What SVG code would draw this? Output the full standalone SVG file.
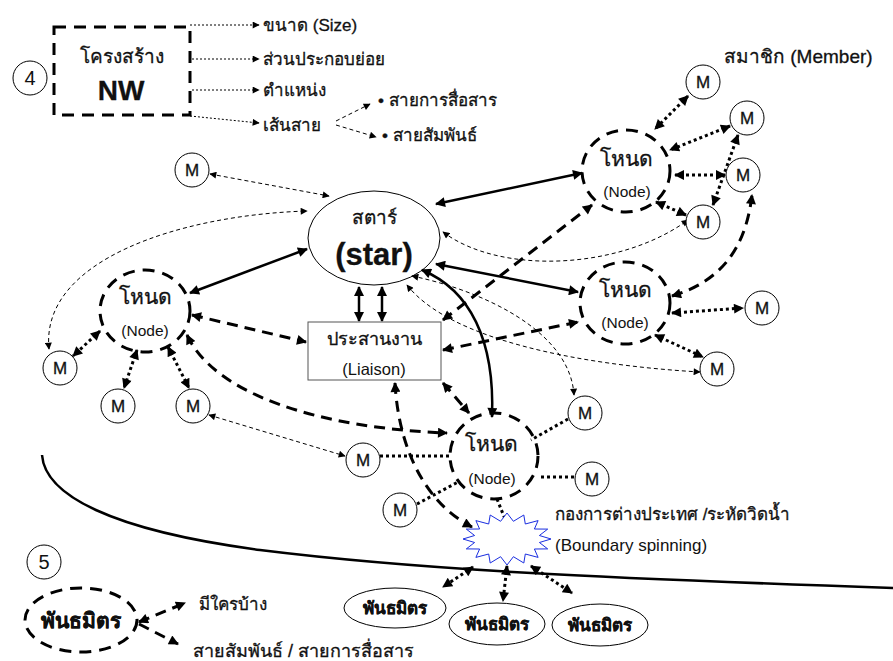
<svg xmlns="http://www.w3.org/2000/svg" width="893" height="661" viewBox="0 0 893 661">
  <defs>
    <marker id="sm" viewBox="0 0 10 10" refX="9" refY="5" markerWidth="8" markerHeight="7" markerUnits="userSpaceOnUse" orient="auto-start-reverse">
      <path d="M0,0 L10,5 L0,10 z" fill="#000"/>
    </marker>
    <marker id="lg" viewBox="0 0 10 10" refX="9" refY="5" markerWidth="12" markerHeight="10" markerUnits="userSpaceOnUse" orient="auto-start-reverse">
      <path d="M0,0 L10,5 L0,10 z" fill="#000"/>
    </marker>
    <style>
      text { font-family: "Liberation Sans", "Noto Sans", "DejaVu Sans", sans-serif; fill: #111; stroke: #111; stroke-width: 0.3; }
      .mid { text-anchor: middle; }
      .m { font-size: 17px; text-anchor: middle; }
      .mem { fill: #fff; stroke: #000; stroke-width: 1; }
      .hub { fill: none; stroke: #000; stroke-width: 3; stroke-dasharray: 12 8; }
      .th { font-size: 21px; text-anchor: middle; }
      .en { font-size: 15.5px; text-anchor: middle; }
      .lbl { font-size: 17px; }
      .pt { font-size: 17px; font-weight: bold; text-anchor: middle; }
      .thin-dot { fill: none; stroke: #000; stroke-width: 1; stroke-dasharray: 2 2; marker-end: url(#sm); }
      .thin-dash { fill: none; stroke: #000; stroke-width: 1; stroke-dasharray: 4 3; marker-start: url(#sm); marker-end: url(#sm); }
      .thick-dash { fill: none; stroke: #000; stroke-width: 3; stroke-dasharray: 11 7; marker-start: url(#lg); marker-end: url(#lg); }
      .dot { fill: none; stroke: #000; stroke-width: 3; stroke-dasharray: 3 3; marker-start: url(#lg); marker-end: url(#lg); }
      .dot-plain { fill: none; stroke: #000; stroke-width: 3; stroke-dasharray: 3 3; }
      .solid { fill: none; stroke: #000; stroke-width: 2.5; marker-start: url(#lg); marker-end: url(#lg); }
    </style>
  </defs>

  <rect width="893" height="661" fill="#fff"/>

  <!-- boundary line of the organisation -->
  <path id="boundary-line" d="M42,455 C45,495 110,530 260,550 C420,570 600,578 893,588" fill="none" stroke="#000" stroke-width="2.5"/>

  <!-- connectors -->
  <g id="connectors">
    <!-- structure sub-items -->
    <path class="thin-dot" d="M190,25 L259,25"/>
    <path class="thin-dot" d="M192,59 L259,59"/>
    <path class="thin-dot" d="M192,90 L259,90"/>
    <path class="thin-dot" d="M190,116 L259,123"/>
    <path class="thin-dash" style="marker-start:none" d="M336,121 L370,104"/>
    <path class="thin-dash" style="marker-start:none" d="M336,125 L376,137"/>

    <!-- top-right node and members -->
    <path class="dot" d="M688,96 L655,129"/>
    <path class="dot" d="M730,126 L670,150"/>
    <path class="dot" d="M725,175 L675,175"/>
    <path class="dot" d="M686,215 L656,202"/>
    <path class="dot" d="M738,135 L713,205"/>
    <path class="thick-dash" d="M672,296 C715,283 745,255 752,195"/>

    <!-- right node and members -->
    <path class="dot" d="M672,313 L743,308"/>
    <path class="dot" d="M655,335 L703,357"/>

    <!-- star links -->
    <path class="thin-dash" d="M210,174 L329,196"/>
    <path class="thin-dash" d="M49,349 C40,260 180,215 307,211"/>
    <path class="solid" d="M307,249 L190,293"/>
    <path class="solid" d="M436,204 L582,173"/>
    <path class="solid" d="M436,264 L578,292"/>
    <path class="solid" d="M359,287 L359,321"/>
    <path class="solid" d="M382,287 L382,321"/>
    <path class="solid" d="M422,270 C470,290 495,340 492,417"/>
    <path class="thin-dash" d="M443,232 C500,275 620,270 688,220"/>
    <path class="thin-dash" d="M412,276 C480,290 570,330 574,395"/>
    <path class="thin-dash" d="M407,285 C450,340 580,365 700,372"/>

    <!-- liaison links -->
    <path class="thick-dash" d="M192,315 L306,342"/>
    <path class="thick-dash" d="M443,350 L578,322"/>
    <path class="thick-dash" d="M443,320 L592,205"/>
    <path class="thick-dash" d="M443,383 L469,413"/>
    <path class="thick-dash" d="M395,383 C398,440 420,500 472,527"/>

    <!-- left node and members -->
    <path class="dot" d="M100,331 L73,356"/>
    <path class="dot" d="M137,350 L124,388"/>
    <path class="dot" d="M168,347 L189,388"/>
    <path class="thick-dash" d="M187,335 C215,395 320,428 447,433"/>
    <path class="thin-dash" d="M209,415 L345,456"/>

    <!-- bottom node and members -->
    <path class="dot-plain" d="M380,456 L450,456"/>
    <path class="dot-plain" d="M417,504 L458,482"/>
    <path class="dot-plain" d="M568,419 L531,440"/>
    <path class="dot-plain" d="M574,477 L538,477"/>
    <path class="dot-plain" d="M497,499 L505,519"/>

    <!-- boundary spinning to partners -->
    <path class="dot" d="M473,567 L443,587"/>
    <path class="dot" d="M507,566 L503,601"/>
    <path class="dot" d="M531,566 L572,593"/>

    <!-- partner legend -->
    <path class="thick-dash" d="M139,622 L185,603"/>
    <path class="thick-dash" style="marker-start:none" d="M139,624 L178,644"/>
  </g>

  <!-- network structure box -->
  <g id="label-4">
    <circle cx="30" cy="78" r="17" fill="none" stroke="#000" stroke-width="1"/>
    <text x="30" y="85" class="mid" font-size="20" style="stroke-width:0">4</text>
  </g>
  <g id="structure">
    <rect x="54" y="27" width="136" height="88" fill="none" stroke="#000" stroke-width="3" stroke-dasharray="12 8"/>
    <text x="122" y="63" class="mid" font-size="19">โครงสร้าง</text>
    <text x="121" y="100" class="mid" font-size="28" font-weight="bold">NW</text>
  </g>
  <g id="structure-items">
    <text x="263" y="31" class="lbl">ขนาด (Size)</text>
    <text x="263" y="65" class="lbl" font-size="18">ส่วนประกอบย่อย</text>
    <text x="263" y="96" class="lbl" font-size="18">ตำแหน่ง</text>
    <text x="263" y="131" class="lbl" font-size="18">เส้นสาย</text>
    <text x="378" y="106" class="lbl" font-size="18">• สายการสื่อสาร</text>
    <text x="382" y="141" class="lbl" font-size="18">• สายสัมพันธ์</text>
  </g>
  <text id="member-title" x="724" y="63" font-size="19">สมาชิก (Member)</text>

  <!-- star -->
  <g id="star">
    <ellipse cx="374" cy="238" rx="66" ry="47" fill="none" stroke="#000" stroke-width="1"/>
    <text x="374" y="224" class="mid" font-size="19">สตาร์</text>
    <text x="374" y="265" class="mid" font-size="31" font-weight="bold">(star)</text>
  </g>

  <!-- liaison -->
  <g id="liaison">
    <rect x="308" y="322" width="133" height="58" fill="#fff" stroke="#555" stroke-width="1"/>
    <text x="374" y="345" class="mid" font-size="18">ประสานงาน</text>
    <text x="374" y="375" class="mid" font-size="16.5" style="stroke-width:0">(Liaison)</text>
  </g>

  <!-- nodes -->
  <g id="node-top-right">
    <ellipse cx="626" cy="171" rx="44" ry="41" class="hub"/>
    <text x="626" y="166" class="th">โหนด</text>
    <text x="627" y="197" class="en" style="stroke-width:0">(Node)</text>
  </g>
  <g id="node-right">
    <ellipse cx="625" cy="303" rx="45" ry="41" class="hub"/>
    <text x="625" y="297" class="th">โหนด</text>
    <text x="625" y="328" class="en" style="stroke-width:0">(Node)</text>
  </g>
  <g id="node-left">
    <ellipse cx="145" cy="311" rx="45" ry="41" class="hub"/>
    <text x="145" y="304" class="th">โหนด</text>
    <text x="145" y="336" class="en" style="stroke-width:0">(Node)</text>
  </g>
  <g id="node-bottom">
    <ellipse cx="494" cy="456" rx="44" ry="43" class="hub"/>
    <text x="491" y="451" class="th">โหนด</text>
    <text x="492" y="484" class="en" style="stroke-width:0">(Node)</text>
  </g>

  <!-- members -->
  <g id="m-top-left"><circle cx="192" cy="170" r="17" class="mem"/><text x="192" y="176" class="m">M</text></g>
  <g id="m-tr-1"><circle cx="703" cy="82" r="17" class="mem"/><text x="703" y="88" class="m">M</text></g>
  <g id="m-tr-2"><circle cx="747" cy="118" r="17" class="mem"/><text x="747" y="124" class="m">M</text></g>
  <g id="m-tr-3"><circle cx="743" cy="175" r="17" class="mem"/><text x="743" y="181" class="m">M</text></g>
  <g id="m-tr-4"><circle cx="703" cy="222" r="17" class="mem"/><text x="703" y="228" class="m">M</text></g>
  <g id="m-r-1"><circle cx="762" cy="308" r="17" class="mem"/><text x="762" y="314" class="m">M</text></g>
  <g id="m-r-2"><circle cx="717" cy="369" r="17" class="mem"/><text x="717" y="375" class="m">M</text></g>
  <g id="m-l-1"><circle cx="60" cy="368" r="17" class="mem"/><text x="60" y="374" class="m">M</text></g>
  <g id="m-l-2"><circle cx="118" cy="406" r="17" class="mem"/><text x="118" y="412" class="m">M</text></g>
  <g id="m-l-3"><circle cx="193" cy="406" r="17" class="mem"/><text x="193" y="412" class="m">M</text></g>
  <g id="m-b-1"><circle cx="363" cy="460" r="17" class="mem"/><text x="363" y="466" class="m">M</text></g>
  <g id="m-b-2"><circle cx="400" cy="510" r="17" class="mem"/><text x="400" y="516" class="m">M</text></g>
  <g id="m-b-3"><circle cx="585" cy="413" r="17" class="mem"/><text x="585" y="419" class="m">M</text></g>
  <g id="m-b-4"><circle cx="592" cy="479" r="17" class="mem"/><text x="592" y="485" class="m">M</text></g>

  <!-- boundary spinning -->
  <g id="boundary-spinning">
    <polygon points="551,539 539.4,542.5 547.7,548.9 534.4,549 538.1,557.4 525.3,554 523.8,563 513.4,556.7 507,565 500.6,556.7 490.2,563 488.7,554 475.9,557.4 479.6,549 466.3,548.9 474.6,542.5 463,539 474.6,535.5 466.3,529.1 479.6,529 475.9,520.6 488.7,524 490.2,515 500.6,521.3 507,513 513.4,521.3 523.8,515 525.3,524 538.1,520.6 534.4,529 547.7,529.1 539.4,535.5" fill="#fff" stroke="#1a2ee0" stroke-width="1"/>
    <text x="555" y="520" class="lbl" font-size="18">กองการต่างประเทศ /ระหัดวิดน้ำ</text>
    <text x="555" y="551" class="lbl" style="stroke-width:0">(Boundary spinning)</text>
  </g>

  <!-- partners -->
  <g id="partner-1"><ellipse cx="395" cy="608" rx="51" ry="20" fill="#fff" stroke="#000" stroke-width="1"/><text x="395" y="614" class="pt">พันธมิตร</text></g>
  <g id="partner-2"><ellipse cx="497" cy="624" rx="48" ry="21" fill="#fff" stroke="#000" stroke-width="1"/><text x="497" y="630" class="pt">พันธมิตร</text></g>
  <g id="partner-3"><ellipse cx="600" cy="625" rx="48" ry="21" fill="#fff" stroke="#000" stroke-width="1"/><text x="600" y="631" class="pt">พันธมิตร</text></g>

  <!-- partner legend -->
  <g id="label-5">
    <circle cx="44" cy="562" r="17" fill="none" stroke="#000" stroke-width="1"/>
    <text x="44" y="569" class="mid" font-size="20" style="stroke-width:0">5</text>
  </g>
  <g id="partner-legend">
    <ellipse cx="81" cy="620" rx="56" ry="32" class="hub"/>
    <text x="81" y="628" class="mid" font-size="21" font-weight="bold">พันธมิตร</text>
    <text x="199" y="610" font-size="17">มีใครบ้าง</text>
    <text x="193" y="657" font-size="18">สายสัมพันธ์ / สายการสื่อสาร</text>
  </g>
</svg>
